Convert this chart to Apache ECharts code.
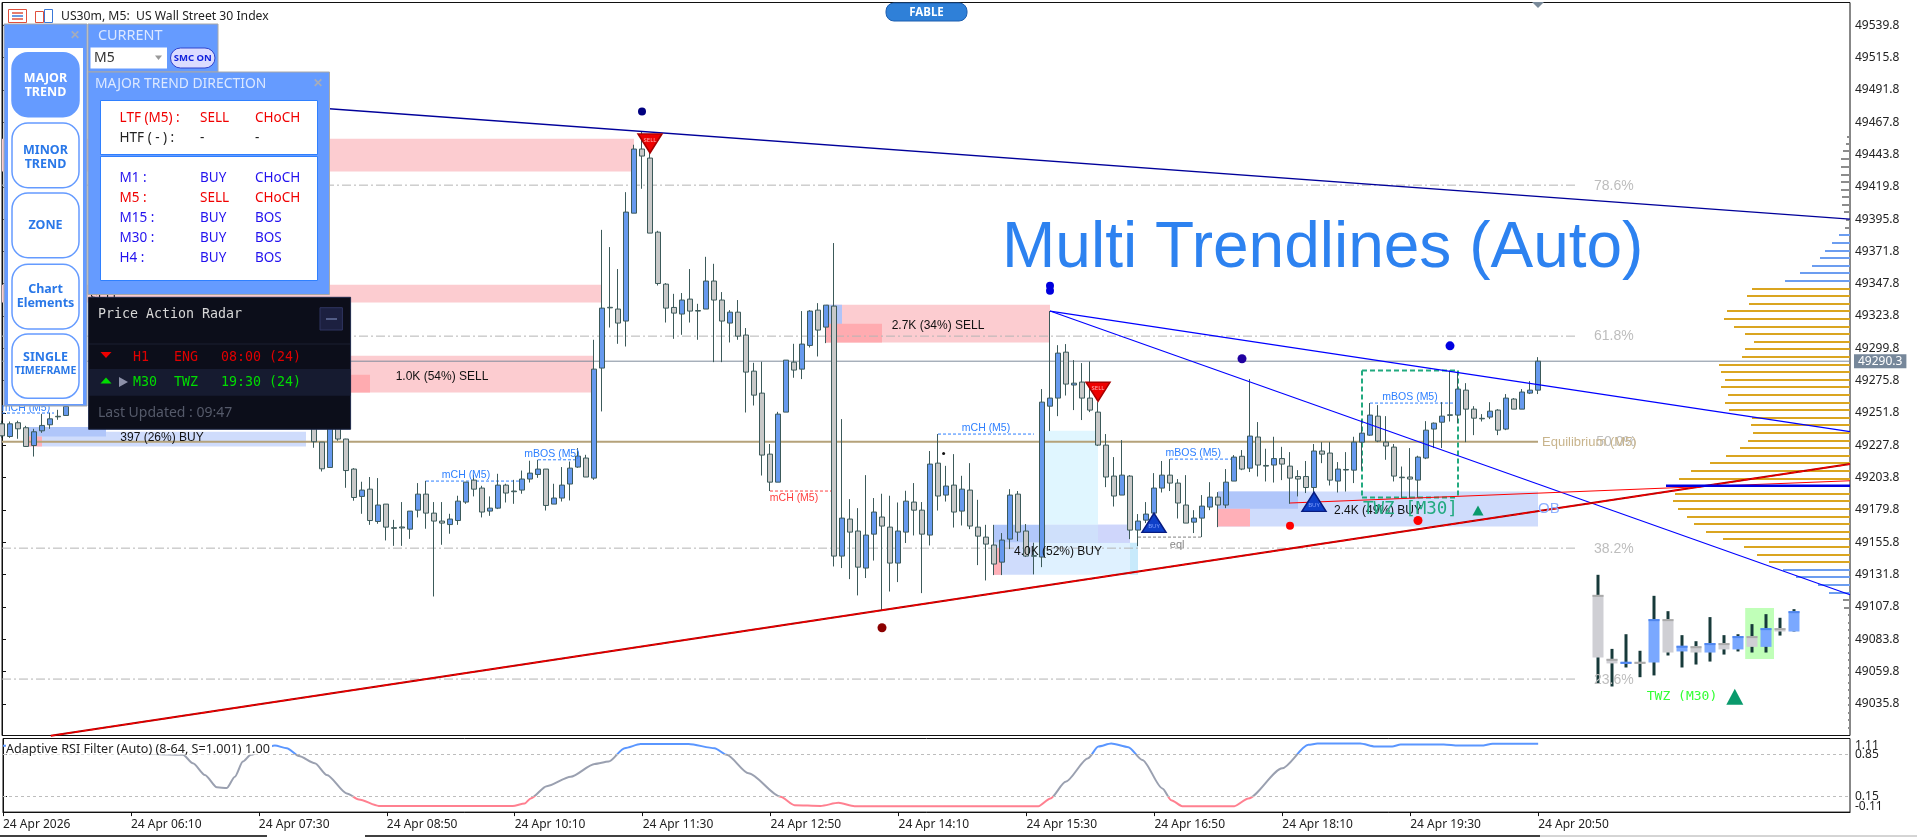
<!DOCTYPE html>
<html><head><meta charset="utf-8">
<style>html,body{margin:0;padding:0;background:#fff;overflow:hidden}#c{width:1917px;height:837px}</style>
<script src="https://cdn.jsdelivr.net/npm/echarts@6/dist/echarts.min.js"></script>
</head><body><div id="c"></div>
<script>
const HIDDEN=[null,null,null,null,null,null,null,null,null,null,null,null,null,null,null,null,null,null,null,null,null,null,null,null,null,null,null,null,null,null];
const opens=[49243.8,49234.4,49244.6,49240.9,49227.7,49238.6,49243.1,49249.4,49250.0,...HIDDEN,
49243.1,49230.2,49211.4,49246.8,49232.5,49210.2,49189.9,49195.3,49171.3,49184.2,
49166.7,49167.2,49165.6,49179.7,49191.6,49177.5,49171.6,49169.0,49172.0,49185.7,
49202.0,49196.1,49179.0,49181.2,49198.3,49193.9,49194.6,49202.8,49206.2,49210.2,
49184.2,49188.7,49199.1,49211.7,49218.4,49203.5,49285.2,49330.3,49329.0,49320.1,
49400.2,49447.8,49441.1,49386.1,49347.5,49330.2,49325.3,49336.4,49327.9,49329.0,
49349.8,49335.7,49318.6,49326.7,49309.7,49282.9,49266.6,49221.3,49200.5,49252.5,
49289.6,49284.4,49302.0,49328.2,49315.6,49331.2,49145.6,49173.1,49164.2,49136.7,
49161.9,49174.6,49167.1,49140.4,49163.4,49185.7,49179.7,49161.2,49214.6,49190.9,
49198.3,49179.0,49194.6,49167.1,49159.7,49153.8,49141.1,49158.2,49191.6,49164.2,
49145.9,49144.9,49256.9,49262.9,49297.0,49272.6,49274.8,49262.9,49252.5,49228.0,
49205.0,49190.9,49205.0,49164.9,49172.3,49177.5,49196.1,49205.7,49199.8,49183.5,
49170.8,49173.8,49182.0,49189.4,49183.5,49201.3,49219.7,49210.9,49234.0,49212.9,
49213.2,49218.0,49212.4,49204.7,49204.7,49196.5,49223.6,49222.1,49201.3,49209.9,
49209.4,49230.2,49235.4,49249.5,49230.2,49226.5,49204.2,49204.3,49202.0,49218.4,
49239.9,49245.0,49250.5,49250.3,49268.8,49254.7,49247.9,49248.8,49254.0,49239.9,
49262.2,49254.7,49266.6,49268.8];
const closes=[49234.9,49243.8,49240.1,49227.0,49237.9,49242.6,49247.5,49249.0,49256.7,...HIDDEN,
49230.5,49210.4,49250.5,49232.5,49209.1,49189.1,49194.6,49172.0,49183.5,49167.1,
49166.2,49166.5,49179.0,49191.6,49177.5,49171.6,49170.1,49173.1,49186.4,49200.5,
49195.3,49178.3,49181.2,49198.3,49192.4,49193.4,49202.8,49207.2,49210.2,49183.2,
49188.7,49198.3,49210.9,49219.8,49204.3,49284.4,49329.7,49329.9,49318.6,49401.0,
49447.8,49442.6,49385.4,49348.0,49329.7,49326.0,49335.7,49327.5,49327.5,49349.8,
49335.7,49320.1,49326.7,49308.9,49282.2,49265.1,49220.6,49200.5,49251.0,49291.1,
49283.7,49303.0,49327.5,49313.4,49331.9,49145.6,49173.8,49163.4,49137.4,49161.2,
49178.3,49167.9,49140.4,49164.2,49186.4,49179.7,49161.9,49213.9,49190.2,49197.6,
49178.3,49195.3,49167.9,49160.4,49154.5,49139.7,49157.5,49190.9,49163.4,49145.6,
49145.5,49259.9,49262.9,49296.3,49273.3,49274.0,49262.9,49254.0,49228.0,49204.3,
49190.2,49205.7,49164.9,49171.6,49176.8,49196.1,49205.7,49199.8,49185.0,49170.1,
49173.8,49182.7,49189.4,49183.5,49200.5,49219.1,49210.2,49234.7,49213.2,49212.4,
49218.0,49213.9,49203.5,49202.8,49196.5,49223.6,49221.3,49202.0,49210.2,49209.5,
49230.2,49236.9,49250.3,49231.0,49227.3,49205.0,49203.8,49202.8,49219.1,49239.1,
49244.3,49249.5,49250.1,49269.6,49254.7,49248.0,49247.5,49253.2,49239.1,49262.9,
49254.7,49267.4,49268.8,49290.3];
const lows=[49233.4,49233.4,49232.7,49226.7,49219.5,49237.1,49240.1,49246.8,49250.0,...HIDDEN,
49226.0,49208.4,49211.4,49231.2,49196.3,49186.7,49177.0,49168.8,49169.6,49157.2,
49153.2,49153.2,49158.4,49174.3,49165.9,49115.6,49154.0,49162.2,49168.8,49184.4,
49189.9,49174.3,49175.5,49180.5,49185.4,49184.4,49191.9,49200.2,49203.7,49179.4,
49184.2,49186.1,49186.9,49211.1,49204.3,49202.2,49253.0,49315.3,49303.2,49301.2,
49400.2,49418.3,49385.4,49346.5,49319.0,49306.9,49309.9,49319.0,49306.2,49329.0,
49289.6,49289.6,49304.2,49306.2,49252.2,49257.4,49205.4,49193.9,49200.5,49252.5,
49278.0,49277.0,49300.5,49293.8,49303.7,49137.9,49136.7,49128.5,49116.4,49129.3,
49142.3,49105.0,49119.3,49126.3,49155.3,49160.9,49118.1,49153.5,49179.4,49186.1,
49166.8,49168.3,49165.6,49138.9,49127.5,49131.5,49131.5,49150.8,49156.7,49144.9,
49132.0,49137.4,49238.4,49249.5,49264.8,49254.0,49246.6,49252.5,49227.3,49196.8,
49182.4,49190.9,49158.2,49153.0,49170.1,49170.1,49192.8,49193.9,49173.5,49170.1,
49162.7,49159.7,49179.7,49167.1,49181.2,49201.3,49209.4,49208.0,49204.7,49201.0,
49200.2,49202.0,49184.4,49189.9,49192.4,49192.4,49214.6,49198.0,49192.8,49193.5,
49199.8,49209.7,49234.9,49230.2,49217.1,49201.0,49188.7,49188.7,49188.7,49217.6,
49225.8,49225.8,49245.5,49244.3,49230.2,49235.4,49245.5,49247.3,49235.4,49239.1,
49254.7,49254.7,49265.9,49265.9];
const highs=[49246.1,49245.5,49246.1,49242.3,49240.1,49251.2,49252.0,49254.2,49258.7,...HIDDEN,
49243.1,49230.2,49250.5,49246.8,49232.7,49210.9,49200.8,49204.3,49203.5,49184.2,
49172.5,49185.7,49179.0,49199.8,49201.5,49185.7,49185.7,49177.0,49190.4,49200.5,
49206.0,49197.8,49189.9,49206.7,49199.3,49202.2,49209.1,49216.4,49217.1,49210.2,
49199.3,49211.7,49215.8,49225.8,49220.8,49306.2,49387.8,49375.0,49358.7,49415.8,
49451.0,49460.8,49447.2,49387.1,49348.3,49340.3,49340.9,49358.7,49332.9,49367.8,
49362.6,49341.6,49328.2,49335.7,49314.9,49289.1,49289.9,49228.8,49252.7,49291.1,
49303.2,49327.5,49328.2,49333.4,49331.9,49378.0,49247.3,49187.9,49181.2,49205.7,
49188.7,49191.9,49190.4,49185.4,49194.1,49199.8,49185.7,49223.6,49236.2,49212.6,
49221.3,49205.2,49214.6,49187.4,49168.8,49168.8,49162.7,49195.3,49193.9,49169.4,
49155.5,49269.6,49327.5,49302.2,49303.0,49291.1,49288.9,49290.1,49259.9,49236.2,
49219.1,49231.7,49205.7,49176.8,49185.7,49207.2,49216.2,49217.6,49202.8,49205.7,
49179.7,49190.9,49200.5,49193.1,49210.2,49220.6,49224.3,49277.0,49245.1,49225.3,
49234.2,49226.7,49222.8,49209.4,49216.2,49228.8,49230.2,49230.2,49215.4,49222.8,
49234.2,49246.6,49259.2,49257.7,49249.5,49228.8,49212.1,49225.8,49220.1,49245.8,
49244.8,49259.9,49283.4,49281.7,49274.0,49256.9,49251.0,49259.9,49254.7,49265.9,
49262.9,49269.6,49275.5,49293.3];

const priceTicks=[49539.8,49515.8,49491.8,49467.8,49443.8,49419.8,49395.8,49371.8,49347.8,49323.8,49299.8,49275.8,49251.8,49227.8,49203.8,49179.8,49155.8,49131.8,49107.8,49083.8,49059.8,49035.8];
const timeTickBars=[0,16,32,48,64,80,96,112,128,144,160,176,192];
const timeLabels=["24 Apr 2026","24 Apr 06:10","24 Apr 07:30","24 Apr 08:50","24 Apr 10:10","24 Apr 11:30","24 Apr 12:50","24 Apr 14:10","24 Apr 15:30","24 Apr 16:50","24 Apr 18:10","24 Apr 19:30","24 Apr 20:50"];
const rsiTicks=[1.11,0.85,0.15,-0.11];
const rsiLevelLabels=[0.85,0.15];
const rsiEdgeLabels=[1.11,-0.11];
const lastPrice=49290.3;

const rsiBars=[0,1,22.5,23.75,25.25,26.75,28,29,30,31,34,35.5,37,39,40.5,43,44.5,47,63.75,65.25,66,68,71,74,75.75,77.75,79.75,85.75,89,90.5,93.25,97.25,99,102.25,104.5,106.5,129.5,131,132.9,135.7,137,138.6,140.75,142.5,145,146.1,147.5,154,155.75,160,163.25,164.4,169.75,171.6,173.75,174.8,180.2,182,184.9,186.3,192];
const rsiValues=[0.99,0.99,0.84,0.70,0.505,0.30,0.29,0.477,0.727,0.84,0.993,0.95,0.82,0.70,0.505,0.20,0.10,-0.007,-0.007,0.033,0.117,0.32,0.477,0.688,0.727,0.95,1.017,1.017,0.95,0.84,0.533,0.143,0.005,-0.007,0.043,-0.012,-0.012,0.117,0.393,0.783,0.977,1.027,0.967,0.755,0.283,0.088,-0.012,-0.012,0.117,0.617,1.005,1.027,1.027,0.977,0.977,1.01,1.01,0.993,0.993,1.022,1.022];

const zoneRects=[
[0,79,49455.4,49431.1],[0,75,49347,49333.9],[40,74,49294.3,49267.1],[40,46,49280.2,49267.1],
[103,131,49332.2,49304.2],[103,105,49332.2,49315.8],[103,110,49318.1,49304.2],
[3.25,38,49237.9,49227],[3.25,13,49241.4,49234.4],[3.25,5,49234.4,49227],
[124,141,49168.8,49155.5],[124,129,49155.5,49131.7],[124,125,49151.8,49131.7],[129,141,49155.5,49131.7],[141,142,49155.5,49131.7],[130.4,137,49238.6,49168.8],[130.4,137,49168.8,49155.5],[137,141,49168.8,49155.5],
[152,192,49193.6,49167.6],[152,162,49193.6,49180.7],[152,156,49180.7,49167.6],
[217.9,221.5,49107,49069.2]];
const zoneColors=["#FCCCD0","#FCCCD0","#FCCCD0","#FFABB0","#FCCCD0","#B0C4F8","#FFABB0","#CFDCFC","#B0C6FA","#FFB0B8","#B2C8FA","#CFDCFC","#FFB0B8","#DFF1FF","#C8EAFB","#E0F6FF","#CFE0FB","#CFD6FB","#CFDCFC","#B0C6FA","#FFB0B8","#C0FFB8"];

const FIB=["#b4b4b4",1,[9,3,2,3]],STRB=["#2d7fff",1,[3,2]],STRR=["#ff4040",1,[3,2]],STRG=["#808080",1,[3,2]],BOX=["#22AA80",2,[5,3]];
const underSegments=[
[0,49421,197,49421],[0,49308.9,197,49308.9],[0,49151.5,197,49151.5],[0,49054.3,197,49054.3],
[0,49230.5,192,49230.5],[0,lastPrice,231,lastPrice],
[53,49201.3,65,49201.3],[67,49217.1,72,49217.1],[96,49193.9,104,49193.9],[117,49236.2,129,49236.2],[146,49217.6,154,49217.6],[171,49259.2,182,49259.2],[0,49251.8,6.5,49251.8],[142,49159.7,150,49159.7],
[170,49283.4,182,49283.4],[170,49189.1,182,49189.1],[170,49283.4,170,49189.1],[182,49283.4,182,49189.1]];
const underStyles=[FIB,FIB,FIB,FIB,["#b5a27a",2,null],["#7f8c9c",1,null],STRB,STRB,STRR,STRB,STRB,STRB,STRB,STRG,BOX,BOX,BOX,BOX];
const overSegments=[
[31,49482,231,49395.8],[131,49327.5,231,49238],[131,49327.5,231,49116.9],
[6.1,49012.2,231,49213.9],[6.1,49012.2,231,49213.9],[161,49185,231,49201.5],[208,49197.8,231,49197.8]];
const overStyles=[["#00009a",1.3,null],["#0000ff",1.1,null],["#0000ff",1.1,null],["#b00000",2,null],["#ff0000",1.2,[5,3]],["#ff0000",1.1,null],["#0000e0",2.5,null]];

const noteCoords=[[199,49420.5],[199,49308.6],[204.25,49230.1],[192.5,49230.1],[199,49151],[199,49053.8],
[55,49279],[117,49316.8],[20,49233.4],[132,49149],[172,49179.5],[192,49180.5],[176.05,49180.5],[210,49041.2],
[58,49205.4],[68.75,49221.3],[99,49188.7],[123,49240.9],[148.9,49222.1],[176,49263.6],[3,49255.7],[146.9,49154]];
const noteTexts=["78.6%","61.8%","50.0%","Equilibrium (M5)","38.2%","23.6%","1.0K (54%) SELL","2.7K (34%) SELL","397 (26%) BUY","4.0K (52%) BUY","2.4K (49%) BUY","OB","TWZ [M30]","TWZ (M30)","mCH (M5)","mBOS (M5)","mCH (M5)","mCH (M5)","mBOS (M5)","mBOS (M5)","mCH (M5)","eql"];
const FIBT=["#bdbdbd","14px 'Liberation Sans'","left"],ZT=["#111","12px 'Liberation Sans'","center"],ST=["#2d7fff","10.5px 'Liberation Sans'","center"];
const noteStyles=[FIBT,FIBT,["#bdbdbd","14px 'Liberation Sans'","right"],["#c8b48c","13px 'Liberation Sans'","left"],FIBT,FIBT,ZT,ZT,ZT,ZT,ZT,["#8db0ff","15px 'Liberation Sans'","left"],["#22AA80","17.5px 'DejaVu Sans Mono'","center"],["#33ff33","13px 'DejaVu Sans Mono'","center"],ST,ST,["#ff4040","10.5px 'Liberation Sans'","center"],ST,ST,ST,ST,["#888","11px 'Liberation Sans'","center"]];

const sellMarks=[[81,49452],[137,49267.6]];
const buyMarks=[[144,49170.3],[164,49185.9]];
const greenMarks=[[184.5,49179.5],[216.6,49041.2]];
const dotCoords=[[80,49475.6],[131,49346.3],[131,49342.6],[155,49292.1],[181,49301.7],[110,49092.4],[161,49168.1],[177,49172],[117.7,49221.8]];
const dotColors=["#000080","#0000dd","#0000dd","#2000a0","#0000e0","#8b0000","#ff0000","#ff0000","#111"];
const dotSizes=[8,8,8,9,9,9,8,9,3];

const grayProfile=[[3,49457.1],[4,49451.7],[7,49446],[9,49440.3],[9,49434.8],[9,49428.9],[9,49423.5],[9,49417.5],[8,49412.1],[8,49405.9],[6,49400.7],[4,49395.3],[5,49389.3],[7,49113.2],[6,49107.2],[2,49102],[2,49096.1],[2,49090.9],[2,49084.9],[2,49079.8],[2,49073.8],[2,49068.6],[2,49062.7],[2,49057.5],[2,49051.5],[2,49046.3],[2,49040.4],[2,49035.2],[2,49029.3],[2,49024.1],[2,49018.2]];
const blueProfile=[[11,49384.1],[18,49378.2],[25,49372.3],[30,49367.1],[38,49361.1],[50,49355.9],[65,49350],[67,49135.4],[54,49130.2],[32,49124.3],[21,49118.4]];
const goldProfile=[[98,49344],[103,49338.9],[101,49332.9],[123,49327.7],[126,49321.8],[116,49315.8],[105,49310.6],[96,49304.7],[105,49299.5],[108,49293.6],[131,49287.6],[129,49282.4],[125,49276.5],[129,49271.3],[122,49265.3],[125,49259.4],[121,49254.2],[98,49248.3],[99,49243.1],[97,49237.1],[102,49231.2],[110,49226],[124,49220.1],[140,49214.9],[159,49208.9],[171,49203],[175,49197.8],[175,49191.9],[177,49186.7],[172,49180.7],[163,49174.8],[156,49169.6],[144,49163.6],[127,49158.4],[106,49152.5],[93,49146.6],[81,49141.4]];

const miniBars=[199.5,201.25,203,204.75,206.5,208.25,210,211.75,213.5,215.25,217,218.75,220.5,222.25,224];
const miniOpen=[49116.8,49069.3,49065.6,49067.1,49066.6,49098.8,49074.8,49078.7,49074,49081,49076.3,49086.2,49078.2,49092.1,49089.6];
const miniClose=[49070.3,49065.9,49067.1,49065.6,49098.8,49074,49079,49074,49081,49076.3,49086.2,49078.2,49092.1,49089.6,49104.7];
const miniLow=[49051.3,49048.8,49062.9,49055.7,49057,49071.8,49062.9,49065.1,49067.3,49072.5,49074.8,49074,49074,49086.6,49089.6];
const miniHigh=[49131.7,49076.7,49087.6,49075.3,49116.1,49104.7,49086.9,49082.4,49100.3,49086.9,49087.6,49095.1,49102.5,49099.8,49106.2];

const candleData=[];
opens.forEach((o,i)=>{if(o!==null)candleData.push([i,o,closes[i],lows[i],highs[i]]);});

function segRenderer(styles){return function(p,api){
  const a=api.coord([api.value(0),api.value(1)]),b=api.coord([api.value(2),api.value(3)]),s=styles[p.dataIndex];
  return {type:'line',shape:{x1:a[0],y1:a[1],x2:b[0],y2:b[1]},style:{stroke:s[0],lineWidth:s[1],lineDash:s[2]||undefined,fill:null}};
};}
function profileSeries(data,color){return {type:'custom',coordinateSystem:'cartesian2d',xAxisIndex:2,yAxisIndex:0,z:2,silent:true,animation:false,data:data,encode:{x:0,y:1},
  renderItem:function(p,api){const a=api.coord([0,api.value(1)]),b=api.coord([api.value(0),api.value(1)]);
    return {type:'rect',shape:{x:b[0],y:Math.round(a[1])-1,width:a[0]-b[0],height:2},style:{fill:color}};}};}

const series=[
 {type:'custom',coordinateSystem:'cartesian2d',xAxisIndex:0,yAxisIndex:0,z:1,silent:true,animation:false,data:zoneRects,encode:{x:[0,1],y:[2,3]},
  renderItem:function(p,api){const a=api.coord([api.value(0),api.value(2)]),b=api.coord([api.value(1),api.value(3)]);
    return {type:'rect',shape:{x:a[0],y:a[1],width:b[0]-a[0],height:b[1]-a[1]},style:{fill:zoneColors[p.dataIndex]}};}},
 {type:'custom',coordinateSystem:'cartesian2d',xAxisIndex:0,yAxisIndex:0,z:2,silent:true,animation:false,data:underSegments,encode:{x:[0,2],y:[1,3]},renderItem:segRenderer(underStyles)},
 profileSeries(grayProfile,'#8c8c8c'),profileSeries(blueProfile,'#6c9df0'),profileSeries(goldProfile,'#DAA520'),
 {type:'candlestick',xAxisIndex:0,yAxisIndex:0,z:3,silent:true,animation:false,barWidth:5,data:candleData,
  itemStyle:{color:'#6699EE',color0:'#C8C8C8',borderColor:'#3C5A5A',borderColor0:'#3C5A5A',borderWidth:1}},
 {type:'custom',coordinateSystem:'cartesian2d',xAxisIndex:0,yAxisIndex:0,z:4,silent:true,animation:false,
  data:miniBars.map((x,i)=>[x,miniOpen[i],miniClose[i],miniLow[i],miniHigh[i]]),encode:{x:0,y:[1,2,3,4]},
  renderItem:function(p,api){const x=api.value(0),o=api.value(1),c=api.value(2),up=c>o;
    const t=api.coord([x,Math.max(o,c)]),b=api.coord([x,Math.min(o,c)]),h=api.coord([x,api.value(4)]),l=api.coord([x,api.value(3)]);
    const cx=t[0],H=Math.max(b[1]-t[1],2);
    return {type:'group',children:[
      {type:'rect',shape:{x:cx-1.5,y:h[1],width:3,height:l[1]-h[1]},style:{fill:'#173a3a'}},
      {type:'rect',shape:{x:cx-5.5,y:t[1],width:11,height:H},style:{fill:up?'#7aa8ff':'#cfcfd4'}},
      {type:'rect',shape:{x:cx-5.5,y:t[1],width:11,height:2},style:{fill:up?'#4f86ee':'#aaaaaa'}}]};}},
 {type:'custom',coordinateSystem:'cartesian2d',xAxisIndex:0,yAxisIndex:0,z:5,silent:true,animation:false,data:overSegments,encode:{x:[0,2],y:[1,3]},renderItem:segRenderer(overStyles)},
 {type:'custom',coordinateSystem:'cartesian2d',xAxisIndex:0,yAxisIndex:0,z:6,silent:true,animation:false,data:noteCoords,encode:{x:0,y:1},
  renderItem:function(p,api){const a=api.coord([api.value(0),api.value(1)]),s=noteStyles[p.dataIndex];
    return {type:'text',x:a[0],y:a[1],style:{text:noteTexts[p.dataIndex],fill:s[0],font:s[1],textAlign:s[2],textVerticalAlign:'middle'}};}},
 {type:'custom',coordinateSystem:'cartesian2d',xAxisIndex:0,yAxisIndex:0,z:8,silent:true,animation:false,clip:false,data:[[231,lastPrice]],encode:{x:0,y:1},
  renderItem:function(p,api){const a=api.coord([api.value(0),api.value(1)]);
    return {type:'text',x:a[0]+4,y:a[1],style:{text:api.value(1).toFixed(1),fill:'#fff',font:"12px 'Noto Sans'",backgroundColor:'#76879a',padding:[1,4],textAlign:'left',textVerticalAlign:'middle'}};}},
 {type:'custom',coordinateSystem:'cartesian2d',xAxisIndex:1,yAxisIndex:1,z:8,silent:true,animation:false,clip:false,data:rsiEdgeLabels.map(v=>[231,v]),encode:{x:0,y:1},
  renderItem:function(p,api){const a=api.coord([api.value(0),api.value(1)]);
    return {type:'text',x:a[0]+5,y:a[1]+(p.dataIndex===0?7:-6),style:{text:String(api.value(1)),fill:'#222',font:"12px 'Noto Sans'",textAlign:'left',textVerticalAlign:'middle'}};}},
 {type:'scatter',xAxisIndex:0,yAxisIndex:0,z:7,silent:true,animation:false,symbol:'triangle',symbolRotate:180,symbolSize:[24,19],data:sellMarks,itemStyle:{color:'#ee0000',borderColor:'#a80000',borderWidth:1.5,opacity:1},
  label:{show:true,position:'inside',formatter:'SELL',fontSize:6,color:'#ffb0b0',offset:[0,-3]}},
 {type:'scatter',xAxisIndex:0,yAxisIndex:0,z:7,silent:true,animation:false,symbol:'triangle',symbolSize:[24,19],data:buyMarks,itemStyle:{color:'#0e3fc8',borderColor:'#081c80',borderWidth:1.5,opacity:1},
  label:{show:true,position:'inside',formatter:'BUY',fontSize:6,color:'#7f9fff',offset:[0,3]}},
 {type:'scatter',xAxisIndex:0,yAxisIndex:0,z:7,silent:true,animation:false,symbol:'triangle',symbolSize:function(v,p){return p.dataIndex===0?[11,10]:[17,16];},data:greenMarks,itemStyle:{color:'#0a9a6c',opacity:1}},
 {type:'scatter',xAxisIndex:0,yAxisIndex:0,z:7,silent:true,animation:false,symbol:'circle',
  data:dotCoords.map((d,i)=>({value:d,symbolSize:dotSizes[i],itemStyle:{color:dotColors[i],opacity:1}}))},
 {type:'line',xAxisIndex:1,yAxisIndex:1,z:3,silent:true,animation:false,showSymbol:false,lineStyle:{width:2},smooth:0.25,smoothMonotone:'x',
  data:rsiBars.map((x,i)=>[x,rsiValues[i]]),
  markLine:{silent:true,symbol:'none',animation:false,label:{show:false},lineStyle:{color:'#bdbdbd',type:[3,3],width:1},data:[{yAxis:0.85},{yAxis:0.15}]}}
];
const rsiIndex=series.length-1;

// ---- terminal chrome and panels
const E=[];
const Z=100;
function R(x,y,w,h,fill,stroke,r,z,lw){E.push({type:'rect',silent:true,z:z||Z,shape:{x,y,width:w,height:h,r:r||0},style:{fill:fill||'transparent',stroke:stroke||null,lineWidth:lw||1}});}
function T(x,y,t,c,font,al,z){E.push({type:'text',silent:true,z:z||Z+1,style:{x,y,text:t,fill:c,font,textAlign:al||'left',textVerticalAlign:'middle'}});}
function P(pts,fill,z){E.push({type:'polygon',silent:true,z:z||Z+1,shape:{points:pts},style:{fill}});}
function L(x1,y1,x2,y2,c,w){E.push({type:'line',silent:true,z:Z+1,shape:{x1,y1,x2,y2},style:{stroke:c,lineWidth:w||1}});}
const NS="'Noto Sans'",MONO="'DejaVu Sans Mono'",LIB="'Liberation Sans'";
// title over chart
T(1002,249,'Multi Trendlines (Auto)','#2D82F0',"64px "+LIB,'left',50);
// header
T(61,16.5,'US30m, M5:  US Wall Street 30 Index','#222',"12.2px "+NS);
R(8.5,9.5,18,13,'#fff','#e0503c');L(12,13,23,13,'#e0503c',1.5);L(12,16,23,16,'#3a78d8',1.5);L(12,19,23,19,'#e0503c',1.5);
R(35.5,11.5,8,11,'#fff','#e0503c');R(44.5,9.5,8,13,'#fff','#3a78d8');
R(886,3,81,18,'#2F80D8','#1d5fb0',8);T(926.5,12.5,'FABLE','#fff',"bold 11.5px "+NS,'center');
P([[1532,2],[1544,2],[1538,8]],'#7a8a9a');
// RSI caption with its white plate
R(6,739.5,266,15,'#fff',null,0,40);
T(6,749.3,'Adaptive RSI Filter (Auto) (8-64, S=1.001) 1.00','#222',"12.6px "+NS,'left',41);
// peek of zone text behind panels
T(90,299,'SELL','#222',"12px "+LIB,'left',60);
// left menu
R(4,24,83,382,'#659BFF','#a8a8a8');
T(75,36,'✕','#a6acba',"bold 12px "+NS,'center');
R(8,48,75,356,'#ffffff');
const menu=[[52.7,64,['MAJOR','TREND'],[78.3,92.7],true],[123,64.7,['MINOR','TREND'],[150,164],false],[193,64.7,['ZONE'],[225],false],[264.3,64.7,['Chart','Elements'],[289,303],false],[334,64.3,['SINGLE','TIMEFRAME'],[357,371],false]];
menu.forEach(m=>{R(12,m[0],67,m[1],m[4]?'#659BFF':'#fff','#659BFF',16,Z,1.5);
  m[2].forEach((t,i)=>T(45.5,m[3][i],t,m[4]?'#fff':'#2a78e8',(t==='TIMEFRAME'?"bold 10.5px ":"bold 12.5px ")+NS,'center'));});
// current panel
R(88,24,130,48,'#659BFF','#a8a8a8');
T(98,36,'CURRENT','#dce8ff',"14.4px "+NS);
R(90.5,47.5,76.5,21,'#fff');T(94,58,'M5','#333',"14px "+NS);P([[155,55.5],[162,55.5],[158.5,60]],'#999');
R(170.5,48,44.5,20,'#dcdcff','#3344cc',10);T(192.7,58,'SMC ON','#1122dd',"bold 9.5px "+NS,'center');
// major trend direction
R(88,72,241.5,222.5,'#659BFF','#a8a8a8');
T(95,84.3,'MAJOR TREND DIRECTION','#dce8ff',"13.9px "+NS);
T(318,84,'✕','#a6acba',"bold 12px "+NS,'center');
R(100.5,100.5,217,54,'#fff','#2f80ff');R(100.5,156.5,217,124,'#fff','#2f80ff');
const RED='#f00000',BLU='#2211ee';
const tRows=[[118.3,'LTF (M5) :','SELL','CHoCH',RED],[138.3,'HTF ( - ) :','-','-','#222'],[178.3,'M1 :','BUY','CHoCH',BLU],[198.3,'M5 :','SELL','CHoCH',RED],[218.3,'M15 :','BUY','BOS',BLU],[238.3,'M30 :','BUY','BOS',BLU],[258.3,'H4 :','BUY','BOS',BLU]];
tRows.forEach(r=>{const f="13.5px "+NS;T(119.6,r[0],r[1],r[4],f);T(200,r[0],r[2],r[4],f);T(255,r[0],r[3],r[4],f);});
// radar
R(88.6,297.3,262,132,'#0c0e1a','#1f2a4a');
T(98,315,'Price Action Radar','#d8d8d8',"13.3px "+MONO);
R(320,307.7,22.4,22.3,'#1c2040','#2f3560');L(326,319,337,319,'#8899cc',1);
L(89,344,350,344,'#1a1e30',1);
R(89.2,369,261.2,26.7,'#161b30');
P([[100.5,352],[111.5,352],[106,358]],'#ee0000');
T(133,357.7,'H1','#e00000',"13.3px "+MONO);T(174,357.7,'ENG','#e00000',"13.3px "+MONO);T(221,357.7,'08:00 (24)','#e00000',"13.3px "+MONO);
P([[100.5,383.5],[111.5,383.5],[106,377.5]],'#00dd00');P([[119,377],[128,382],[119,387]],'#8c90a8');
T(133,382.3,'M30','#00dd00',"13.3px "+MONO);T(174,382.3,'TWZ','#00dd00',"13.3px "+MONO);T(221,382.3,'19:30 (24)','#00dd00',"13.3px "+MONO);
T(98,412.7,'Last Updated : 09:47','#555a6a',"14px "+NS);
// window frame bottom
L(0,836,267,836,'#000',1.5);L(365,836,1540,836,'#000',1.5);L(1540,836,1917,836,'#aaaaaa',1);

const option={
 backgroundColor:'#ffffff',animation:false,
 textStyle:{fontFamily:'Noto Sans'},
 grid:[{left:2,top:2.5,width:1848,height:733,show:true,borderColor:'#111',borderWidth:1,backgroundColor:'#fff'},
       {left:2,top:738.5,width:1848,height:73.6,show:true,borderColor:'#111',borderWidth:1,backgroundColor:'#fff'}],
 xAxis:[
  {type:'value',gridIndex:0,min:0,max:231,show:false},
  {type:'value',gridIndex:1,min:0,max:231,interval:16,position:'bottom',splitLine:{show:false},
   axisLine:{lineStyle:{color:'#111'},onZero:false},
   axisTick:{show:true,length:4,lineStyle:{color:'#111'},customValues:timeTickBars},
   axisLabel:{show:true,customValues:timeTickBars,align:'left',margin:6,color:'#222',fontSize:12,fontFamily:'Noto Sans',hideOverlap:false,formatter:v=>timeLabels[timeTickBars.indexOf(v)]||''}},
  {type:'value',gridIndex:0,min:0,max:1848,inverse:true,show:false}],
 yAxis:[
  {type:'value',gridIndex:0,position:'right',min:49012.4,max:49556.6,splitLine:{show:false},scale:true,
   axisLine:{show:true,lineStyle:{color:'#111'}},
   axisTick:{show:true,length:4,lineStyle:{color:'#111'},customValues:priceTicks},
   axisLabel:{show:true,customValues:priceTicks,margin:5,color:'#222',fontSize:12,fontFamily:'Noto Sans',formatter:v=>v.toFixed(1)}},
  {type:'value',gridIndex:1,position:'right',min:-0.11,max:1.11,splitLine:{show:false},scale:true,
   axisLine:{show:true,lineStyle:{color:'#111'}},
   axisTick:{show:true,length:4,lineStyle:{color:'#111'},customValues:rsiTicks},
   axisLabel:{show:true,customValues:rsiLevelLabels,margin:5,color:'#222',fontSize:12,fontFamily:'Noto Sans',hideOverlap:false,formatter:v=>String(v)}}],
 visualMap:{show:false,type:'piecewise',seriesIndex:rsiIndex,dimension:1,
  pieces:[{lte:0.15,color:'#ff8090'},{gt:0.15,lt:0.85,color:'#9aa0b0'},{gte:0.85,color:'#5a96ff'}]},
 series:series,
 graphic:{elements:E}
};
const chart=echarts.init(document.getElementById('c'),null,{renderer:'canvas',width:1917,height:837});
chart.setOption(option);
</script></body></html>
